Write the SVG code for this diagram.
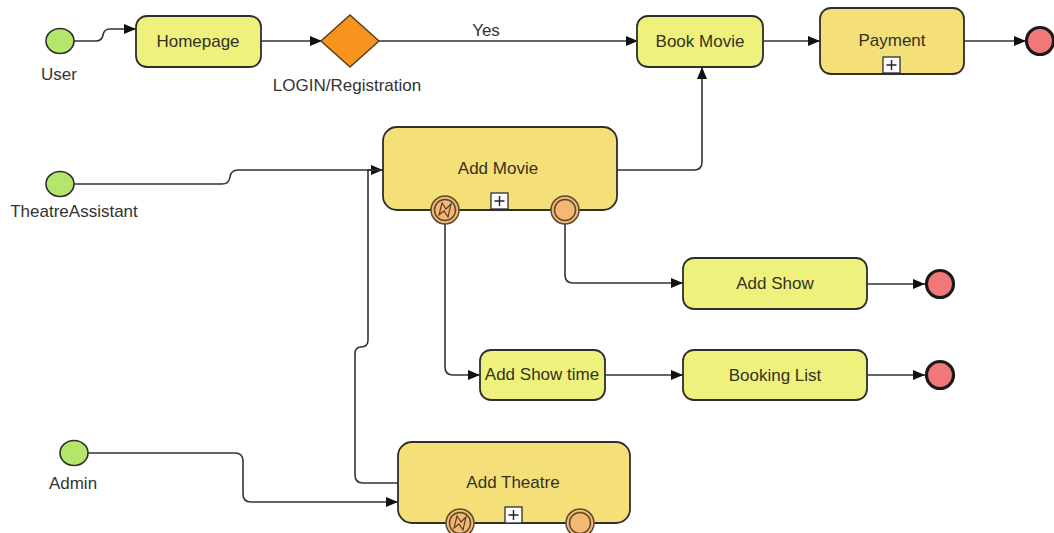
<svg xmlns="http://www.w3.org/2000/svg" width="1054" height="533" viewBox="0 0 1054 533">
<style>
.task{fill:#EEF27C;stroke:#2e2e2e;stroke-width:1.8}
.sub{fill:#F4DF78;stroke:#2e2e2e;stroke-width:1.8}
.start{fill:#B4E66C;stroke:#2e2e2e;stroke-width:1.6}
.end{fill:#F07878;stroke:#1a1a1a;stroke-width:3.2}
.bev{fill:#F4B872;stroke:#5a4a30;stroke-width:1.5}
.plus{fill:#fff;stroke:#2e2e2e;stroke-width:1.3}
.conn path{fill:none;stroke:#333;stroke-width:1.6}
.t{font-family:"Liberation Sans",Arial,sans-serif;font-size:17px;fill:#33331f;text-anchor:middle}
.l{font-family:"Liberation Sans",Arial,sans-serif;font-size:17px;fill:#333;text-anchor:middle}
</style>
<defs>
<marker id="arr" viewBox="0 0 12 10" refX="12" refY="5" markerWidth="12" markerHeight="10" markerUnits="userSpaceOnUse" orient="auto">
<path d="M0,0 L12,5 L0,10 Z" fill="#111"/>
</marker>
<g id="plusIcon"><rect class="plus" x="0" y="0" width="17" height="16"/><path d="M8.5,3 V13 M3.5,8 H13.5" stroke="#222" stroke-width="1.4"/></g>
</defs>
<rect width="1054" height="533" fill="#fff"/>

<g class="conn" id="connectors">
<path d="M74,41 H96 Q102,41 103,35 Q104,29 110,29 H136" marker-end="url(#arr)"/>
<path d="M261,41 H322" marker-end="url(#arr)"/>
<path d="M379,41 H638" marker-end="url(#arr)"/>
<path d="M763,41 H820" marker-end="url(#arr)"/>
<path d="M964,41 H1026" marker-end="url(#arr)"/>
<path d="M74,184 H222 Q229,184 230,177 Q231,170 238,170 H383" marker-end="url(#arr)"/>
<path d="M617,170 H694 Q702,170 702,162 V67" marker-end="url(#arr)"/>
<path d="M565,224 V275 Q565,283 573,283 H683" marker-end="url(#arr)"/>
<path d="M867,284 H925" marker-end="url(#arr)"/>
<path d="M445,224 V367 Q445,375 453,375 H480" marker-end="url(#arr)"/>
<path d="M605,375 H683" marker-end="url(#arr)"/>
<path d="M867,375 H925" marker-end="url(#arr)"/>
<path d="M88,453 H235 Q243,453 243,461 V494 Q243,502 251,502 H398" marker-end="url(#arr)"/>
<path d="M398,483 H363 Q355,483 355,475 V354 Q355,347 361,347 Q368,347 368,340 V170 H383"/>
</g>

<g id="user"><ellipse class="start" cx="60" cy="41" rx="14" ry="12.5"/><text class="l" x="59" y="80">User</text></g>
<g id="homepage"><rect class="task" x="136" y="16" width="125" height="51" rx="11"/><text class="t" x="198" y="47">Homepage</text></g>
<g id="login"><path d="M350,15 L379,41 L350,67 L321,41 Z" fill="#F7941E" stroke="#5a4020" stroke-width="1.5"/><text class="l" x="347" y="91">LOGIN/Registration</text></g>
<g id="yes-label"><text class="l" x="486" y="36">Yes</text></g>
<g id="bookmovie"><rect class="task" x="637" y="16" width="126" height="51" rx="11"/><text class="t" x="700" y="47">Book Movie</text></g>
<g id="payment"><rect class="sub" x="820" y="8" width="144" height="66" rx="11"/><text class="t" x="892" y="46">Payment</text><use href="#plusIcon" x="883" y="57"/></g>
<g id="end1"><circle class="end" cx="1040" cy="41" r="13.5"/></g>

<g id="theatreassistant"><ellipse class="start" cx="60" cy="184" rx="14" ry="12.5"/><text class="l" x="74" y="217">TheatreAssistant</text></g>
<g id="addmovie"><rect class="sub" x="383" y="127" width="234" height="83" rx="14"/><text class="t" x="498" y="174">Add Movie</text><use href="#plusIcon" x="491" y="193"/>
<circle class="bev" cx="445" cy="210" r="14"/><circle class="bev" cx="445" cy="210" r="10.5"/>
<path d="M439,215 L442,203 L446,209 L451,204 L448,217 L444,211 Z" fill="none" stroke="#5a4030" stroke-width="1.2"/>
<circle class="bev" cx="565" cy="210" r="14"/><circle class="bev" cx="565" cy="210" r="10.5"/></g>

<g id="addshow"><rect class="task" x="683" y="258" width="184" height="51" rx="11"/><text class="t" x="775" y="289">Add Show</text></g>
<g id="end2"><circle class="end" cx="940" cy="284" r="13.5"/></g>
<g id="addshowtime"><rect class="task" x="480" y="350" width="125" height="50" rx="11"/><text class="t" x="542" y="380">Add Show time</text></g>
<g id="bookinglist"><rect class="task" x="683" y="350" width="184" height="50" rx="11"/><text class="t" x="775" y="381">Booking List</text></g>
<g id="end3"><circle class="end" cx="940" cy="375" r="13.5"/></g>

<g id="admin"><ellipse class="start" cx="74" cy="453" rx="14" ry="12.5"/><text class="l" x="73" y="489">Admin</text></g>
<g id="addtheatre"><rect class="sub" x="398" y="442" width="232" height="81" rx="14"/><text class="t" x="513" y="488">Add Theatre</text><use href="#plusIcon" x="505" y="507"/>
<circle class="bev" cx="460" cy="523" r="14"/><circle class="bev" cx="460" cy="523" r="10.5"/>
<path d="M454,528 L457,516 L461,522 L466,517 L463,530 L459,524 Z" fill="none" stroke="#5a4030" stroke-width="1.2"/>
<circle class="bev" cx="580" cy="523" r="14"/><circle class="bev" cx="580" cy="523" r="10.5"/></g>
</svg>
